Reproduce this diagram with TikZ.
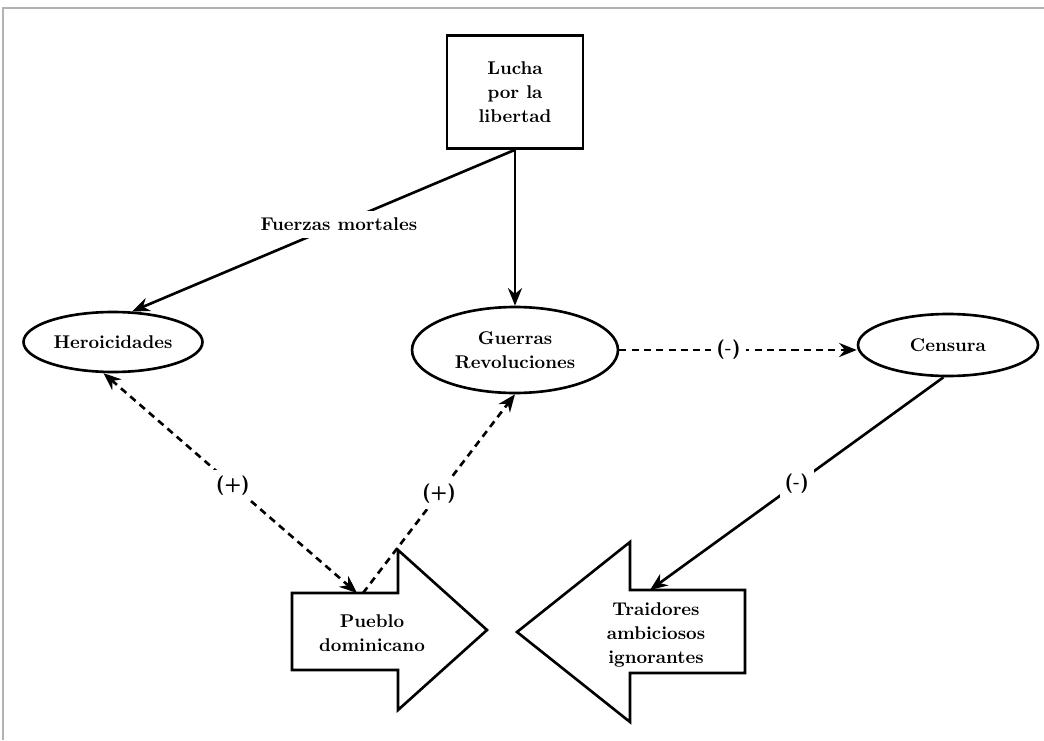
\documentclass[tikz,border=0pt]{standalone}
\usepackage{tikz}
\usetikzlibrary{positioning,shapes.geometric,arrows.meta}

\tikzset{
    txt/.style={font=\fontsize{10.5}{13.5}\selectfont\bfseries, align=center},
    oval/.style={ellipse, draw, line width=1.5pt, inner sep=0pt, txt},
    conn/.style={line width=1.5pt, -{Stealth[length=10pt,width=8pt]}},
    dconn/.style={conn, dash pattern=on 4pt off 3pt},
    sign/.style={font=\fontsize{11}{13}\selectfont\sffamily\bfseries, fill=white, inner sep=3pt}
}

\begin{document}
\begin{tikzpicture}[x=0.02cm,y=-0.02cm]
    \useasboundingbox (0,0) rectangle (1044,740);
    % page edge
    \draw[gray!60, line width=1pt] (3,740) -- (3,8) -- (1044,8);

    \node[draw, line width=1.5pt, minimum width=2.72cm, minimum height=2.26cm, txt] (lucha) at (515,92) {Lucha\\por la\\libertad};

    \foreach \x/\y/\w/\h/\n/\t in {113/342/3.58/1.2/heroic/Heroicidades,
                                    515/350/4.12/1.72/guerras/{Guerras\\Revoluciones},
                                    948/345/3.6/1.24/censura/Censura}{
        \node[oval, minimum width=\w cm, minimum height=\h cm] (\n) at (\x,\y) {\t};
    }

    % fat arrows
    \draw[line width=1.5pt] (292,593) -- (398,593) -- (398,550) -- (487,630) -- (398,710) -- (398,670) -- (292,670) -- cycle;
    \draw[line width=1.5pt] (745,590) -- (630,590) -- (630,542) -- (517,632) -- (630,722) -- (630,673) -- (745,673) -- cycle;
    \node[txt] (pueblo) at (372,633) {Pueblo\\dominicano};
    \node[txt] (traidores) at (656,635) {Traidores\\ambiciosos\\ignorantes};
    \coordinate (pu-a) at (357,593);
    \coordinate (pu-b) at (363,593);
    \coordinate (tr-top) at (650,590);

    \draw[conn] (lucha.south) -- (guerras.north);
    \draw[conn] (lucha.south) -- node[txt, fill=white, pos=0.46, inner sep=4pt] {Fuerzas mortales} (heroic.58);
    \draw[dconn] (guerras.east) -- node[sign, pos=0.46] {(-)} (guerras.east -| censura.west);
    \draw[conn] (censura.262) -- node[sign, pos=0.5] {(-)} (tr-top);
    \draw[dconn, {Stealth[length=10pt,width=8pt]}-{Stealth[length=10pt,width=8pt]}] (heroic.253) -- node[sign, pos=0.51] {(+)} (pu-a);
    \draw[dconn] (pu-b) -- node[sign, pos=0.5] {(+)} (guerras.south);
\end{tikzpicture}
\end{document}
